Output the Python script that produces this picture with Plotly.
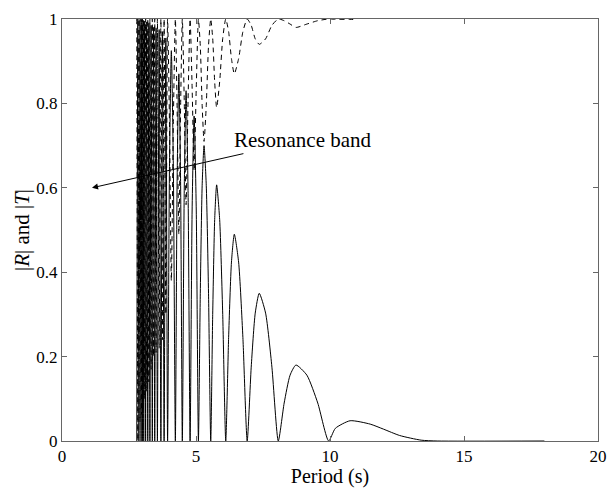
import plotly.graph_objects as go

# |R| (solid): period (s) and magnitude
r_period = [2.79, 2.83, 2.87, 2.91, 2.95, 2.975, 3.00, 3.025, 3.05, 3.085, 3.12, 3.16, 3.20, 3.24,
            3.28, 3.325, 3.37, 3.415, 3.46, 3.51, 3.56, 3.625, 3.69, 3.75, 3.81, 3.875, 3.94,
            4.01, 4.08, 4.155, 4.23, 4.295, 4.36, 4.425, 4.49, 4.56, 4.63, 4.705, 4.78,
            4.855, 4.93, 5.01, 5.09,
            5.16, 5.23, 5.30, 5.383, 5.467, 5.55,
            5.623, 5.697, 5.77, 5.883, 5.997, 6.11,
            6.217, 6.323, 6.43, 6.59, 6.75, 6.91,
            7.06, 7.21, 7.36, 7.597, 7.833, 8.07,
            8.29, 8.51, 8.73, 9.137, 9.543, 9.95,
            10.2, 10.75, 11.5, 12.0, 12.6, 13.4, 14.0, 18.0]
r_mag = [0.0, 1.0, 0.0, 0.999, 0.0, 0.998, 0.0, 0.997, 0.0, 0.995, 0.0, 0.993, 0.0, 0.99,
         0.0, 0.985, 0.0, 0.98, 0.0, 0.978, 0.0, 0.975, 0.0, 0.97, 0.0, 0.955, 0.0,
         0.65, 0.925, 0.65, 0.0, 0.615, 0.87, 0.615, 0.0, 0.587, 0.83, 0.587, 0.0,
         0.545, 0.77, 0.545, 0.0,
         0.35, 0.606, 0.70, 0.606, 0.35, 0.0,
         0.30, 0.525, 0.607, 0.525, 0.30, 0.0,
         0.245, 0.424, 0.49, 0.424, 0.245, 0.0,
         0.175, 0.303, 0.35, 0.303, 0.175, 0.0,
         0.09, 0.156, 0.18, 0.156, 0.09, 0.0,
         0.03, 0.048, 0.04, 0.028, 0.013, 0.002, 0.0, 0.0]

# |T| (dashed)
t_period = [2.79, 2.83, 2.87, 2.91, 2.95, 2.975, 3.00, 3.025, 3.05, 3.085, 3.12, 3.16, 3.20, 3.24,
            3.28, 3.325, 3.37, 3.415, 3.46, 3.51, 3.56, 3.625, 3.69, 3.75, 3.81, 3.875, 3.94,
            4.01, 4.08, 4.155, 4.23, 4.295, 4.36, 4.425, 4.49, 4.56, 4.63, 4.705, 4.78,
            4.855, 4.93, 5.01, 5.09,
            5.16, 5.23, 5.30, 5.383, 5.467, 5.55,
            5.623, 5.697, 5.77, 5.883, 5.997, 6.11,
            6.217, 6.323, 6.43, 6.59, 6.75, 6.91,
            7.06, 7.21, 7.36, 7.597, 7.833, 8.07,
            8.29, 8.51, 8.73, 9.137, 9.543, 9.95,
            10.2, 10.75, 10.9]
t_mag = [1.0, 0.0, 1.0, 0.045, 1.0, 0.063, 1.0, 0.077, 1.0, 0.10, 1.0, 0.118, 1.0, 0.14,
         1.0, 0.17, 1.0, 0.20, 1.0, 0.21, 1.0, 0.22, 1.0, 0.24, 1.0, 0.30, 1.0,
         0.757, 0.38, 0.757, 1.0, 0.789, 0.49, 0.789, 1.0, 0.81, 0.56, 0.81, 1.0,
         0.839, 0.64, 0.839, 1.0,
         0.937, 0.795, 0.71, 0.795, 0.937, 1.0,
         0.954, 0.851, 0.79, 0.851, 0.954, 1.0,
         0.970, 0.906, 0.87, 0.906, 0.970, 1.0,
         0.985, 0.953, 0.94, 0.953, 0.985, 1.0,
         0.996, 0.988, 0.98, 0.988, 0.996, 1.0,
         0.9995, 0.999, 0.999]

x_ticks = [0, 5, 10, 15, 20]
y_ticks = [0, 0.2, 0.4, 0.6, 0.8, 1]

FONT = "Liberation Serif"

fig = go.Figure()
fig.add_trace(go.Scatter(x=t_period, y=t_mag, mode="lines",
                         line=dict(color="black", width=1, dash="5px,4px",
                                   shape="spline", smoothing=0.6),
                         showlegend=False))
fig.add_trace(go.Scatter(x=r_period, y=r_mag, mode="lines",
                         line=dict(color="black", width=1, shape="spline", smoothing=0.6),
                         showlegend=False))

fig.add_annotation(x=1.12, y=0.60, ax=9.0, ay=0.713, axref="x", ayref="y",
                   text="Resonance band", showarrow=True, arrowhead=2,
                   arrowsize=1.2, arrowwidth=1, arrowcolor="black",
                   font=dict(family=FONT, size=21, color="black"))

axis_common = dict(showline=True, linecolor="#666", linewidth=1, mirror="ticks",
                   ticks="inside", ticklen=5, tickcolor="#666", showgrid=False,
                   zeroline=False, automargin=False,
                   tickfont=dict(family=FONT, size=17, color="black"))

fig.update_layout(
    width=610, height=488,
    margin=dict(l=62, r=12, t=19, b=47),
    paper_bgcolor="white", plot_bgcolor="white",
    font=dict(family=FONT, size=17, color="black"),
    xaxis=dict(range=[0, 20], tickvals=x_ticks,
               title=dict(text="Period (s)", font=dict(family=FONT, size=20, color="black"),
                          standoff=2),
               **axis_common),
    yaxis=dict(range=[0, 1], tickvals=y_ticks,
               title=dict(text="|<i>R</i>| and |<i>T</i>|",
                          font=dict(family=FONT, size=21, color="black"), standoff=0),
               **axis_common),
)

fig.write_html("out.html", config={"displayModeBar": False},
               post_script="document.body.style.margin='0px';document.body.style.overflow='hidden';")
